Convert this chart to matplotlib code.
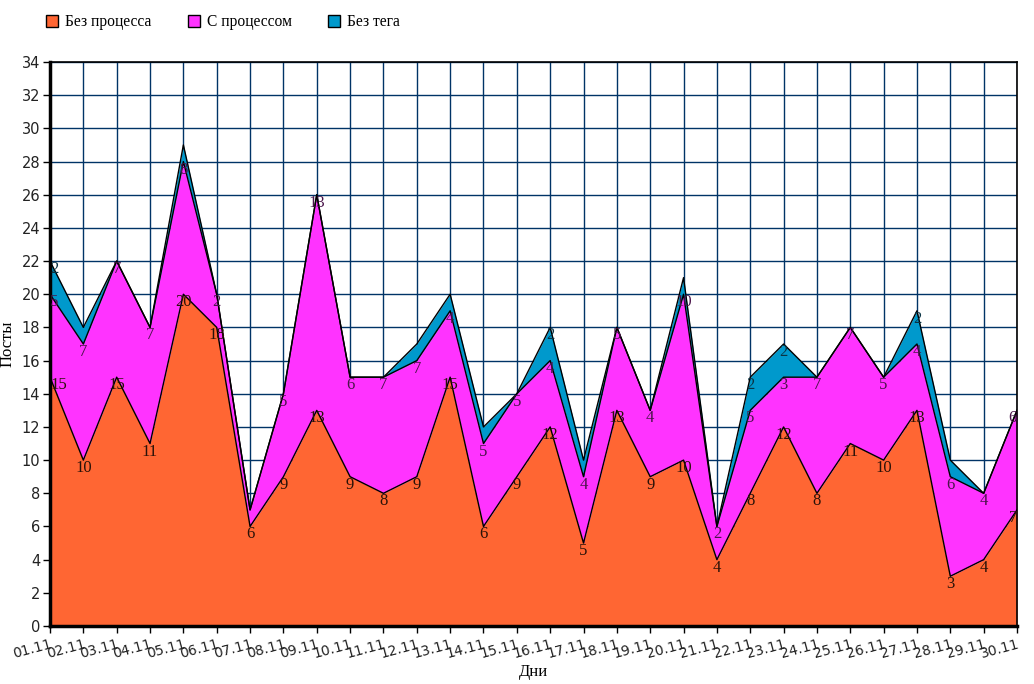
import numpy as np
import matplotlib
matplotlib.use("Agg")
import matplotlib.pyplot as plt
from matplotlib.patches import Patch

days = ["%02d.11" % d for d in range(1, 31)]
no_process = [15, 10, 15, 11, 20, 18, 6, 9, 13, 9, 8, 9, 15, 6, 9,
              12, 5, 13, 9, 10, 4, 8, 12, 8, 11, 10, 13, 3, 4, 7]
with_process = [5, 7, 7, 7, 8, 2, 1, 5, 13, 6, 7, 7, 4, 5, 5,
                4, 4, 5, 4, 10, 2, 5, 3, 7, 7, 5, 4, 6, 4, 6]
no_tag = [2, 1, 0, 0, 1, 0, 0, 0, 0, 0, 0, 1, 1, 1, 0,
          2, 1, 0, 0, 1, 0, 2, 2, 0, 0, 0, 2, 1, 0, 0]

series = [("Без процесса", no_process, "#ff6633", "#2a1208"),
          ("С процессом", with_process, "#ff33ff", "#4a144a"),
          ("Без тега", no_tag, "#0099cc", "#0a3344")]

serif = "Liberation Serif"
sans = "DejaVu Sans"

fig = plt.figure(figsize=(10.34, 6.84), dpi=100)
ax = fig.add_axes([50 / 1034, 1 - 626 / 684, 967 / 1034, 564 / 684])

x = np.arange(len(days))
base = np.zeros(len(days))
for name, vals, color, tcol in series:
    top = base + np.array(vals)
    ax.fill_between(x, base, top, color=color, lw=0, zorder=2)
    ax.plot(x, top, color="black", lw=1, zorder=3)
    for i, v in enumerate(vals):
        if v < 2:
            continue
        ha = "center"
        if i == 0:
            ha = "left"
        elif i == len(vals) - 1:
            ha = "right"
        ax.text(x[i], top[i], str(v), ha=ha, va="top", fontsize=12,
                family=serif, color=tcol, zorder=4)
    base = top

ax.set_xlim(0, len(days) - 1)
ax.set_ylim(0, 34)
ax.set_yticks(range(0, 35, 2))
ax.set_xticks(x)
ax.set_xticklabels(days, rotation=15, ha="right", family=sans, fontsize=10,
                   color="#222222", rotation_mode="anchor")
for lab in ax.get_yticklabels():
    lab.set_family(sans)
    lab.set_fontsize(10.5)
    lab.set_color("#222222")
ax.grid(True, color="#003366", lw=1, zorder=1)
ax.set_axisbelow(True)
for s in ax.spines.values():
    s.set_color("black")
    s.set_linewidth(1.2)
ax.spines["left"].set_linewidth(2.5)
ax.spines["bottom"].set_linewidth(2.5)
ax.tick_params(length=5, width=1, pad=2)
ax.tick_params(axis="x", pad=3)

ax.set_xlabel("Дни", family=serif, fontsize=12, va="center")
ax.xaxis.set_label_coords(0.5, -46 / 564)
ax.set_ylabel("Посты", family=serif, fontsize=12, labelpad=4)

handles = [Patch(facecolor=c, edgecolor="black", lw=1) for _, _, c, _ in series]
fig.legend(handles, [n for n, _, _, _ in series], loc="upper left",
           bbox_to_anchor=(0.031, 1.0), ncol=3, frameon=False,
           prop={"family": serif, "size": 11.2}, handlelength=0.8,
           handleheight=0.8, columnspacing=2.3, handletextpad=0.45)

fig.savefig("out.png", dpi=100)
